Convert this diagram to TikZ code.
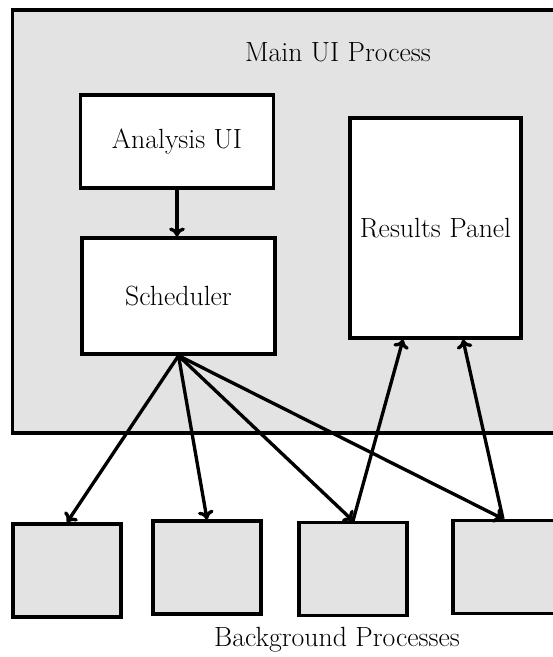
\documentclass[tikz,border=0pt]{standalone}
\usepackage{tikz}
\usetikzlibrary{arrows.meta, calc}

\tikzset{
    proc/.style={draw, line width=1.9pt, fill=gray!22, inner sep=0pt},
    part/.style={draw, line width=1.9pt, fill=white, inner sep=0pt},
    link/.style={-{To[length=5pt, width=9pt]}, line width=1.9pt}
}

\begin{document}
\begin{tikzpicture}[x=0.02cm, y=-0.02cm, every node/.style={font=\fontsize{15.8}{19}\selectfont}]
        \clip (0,0) rectangle (553,657);
        \node[proc, minimum width=11.14cm, minimum height=8.46cm] (main) at (291,221.5) {};
        \node (mainlabel) at (338,52) {Main UI Process};
        \node[part, minimum width=3.86cm, minimum height=1.86cm] (analysis) at (177,141.5) {Analysis UI};
        \node[part, minimum width=3.86cm, minimum height=2.32cm] (sched) at (178.5,296) {Scheduler};
        \node[part, minimum width=3.42cm, minimum height=4.4cm] (results) at (435.5,228) {Results Panel};
        \foreach \name/\x/\y in {bgA/67/570.5, bgB/207/567.5, bgC/353/569, bgD/507/567} {
            \node[proc, minimum width=2.16cm, minimum height=1.86cm] (\name) at (\x,\y) {};
        }
        \node (bglabel) at (337,640) {Background Processes};
        \draw[link] (analysis.south) -- (analysis.south |- sched.north);
        \foreach \name in {bgA,bgB,bgC} {
            \draw[link] (sched.south) -- (\name.north);
        }
        \draw[link] (sched.south) -- ([xshift=-0.08cm]bgD.north);
        \draw[link] (bgC.north) -- ([xshift=-0.65cm]results.south);
        \draw[link] ([xshift=-0.08cm]bgD.north) -- ([xshift=0.55cm]results.south);
    \end{tikzpicture}
\end{document}
